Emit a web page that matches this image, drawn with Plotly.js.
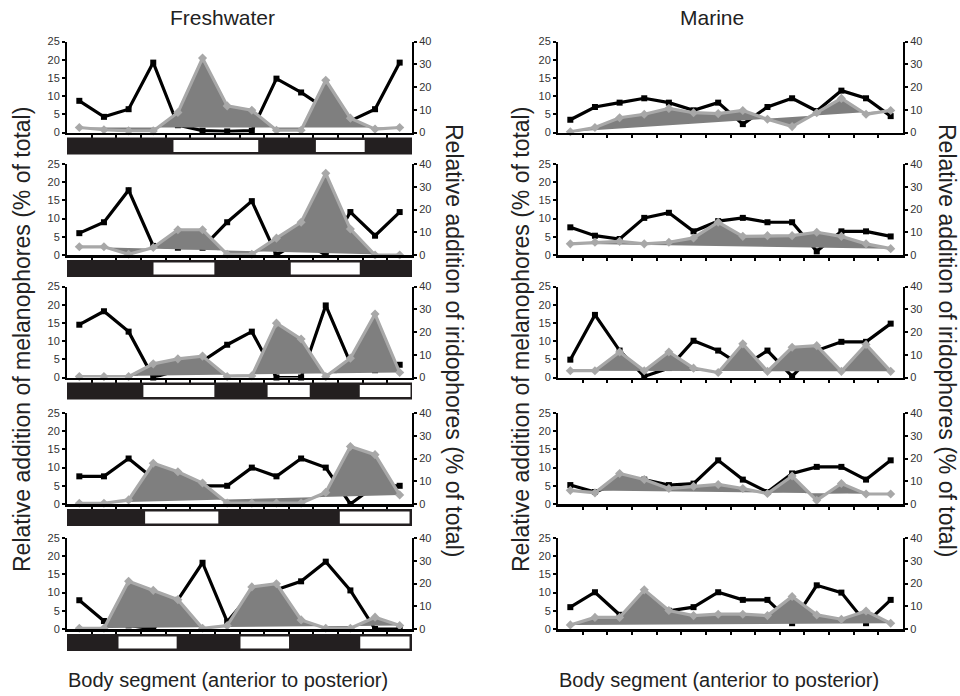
<!DOCTYPE html>
<html>
<head>
<meta charset="utf-8">
<script src="https://cdn.plot.ly/plotly-3.0.1.min.js"></script>
<style>html,body{margin:0;padding:0;background:#fff;}#chart{width:960px;height:696px;}</style>
</head>
<body>
<div id="chart"></div>
<script>
// Body segments (anterior to posterior)
const segments = [1,2,3,4,5,6,7,8,9,10,11,12,13,14];

// Freshwater: melanophores (left axis, %), iridophores (right axis, %)
const fwMel1 = [8.7,4.3,6.4,19.2,2,0.5,0.3,0.5,14.8,11,6.5,3.2,6.4,19.2];
const fwMel2 = [6.0,9.0,17.8,2.5,2,2,9.0,14.8,0,4,0,11.8,5.3,11.8];
const fwMel3 = [14.5,18.2,12.6,0,2,4.5,9,12.6,0,0,19.8,4,2,3.5];
const fwMel4 = [7.6,7.6,12.5,7,5,5,5,10,7.6,12.5,10,0,5,5];
const fwMel5 = [7.9,2.2,1,0,8,18.2,2,10,10.8,13.1,18.5,10.6,0,0];

const fwIri1 = [2.2,1.2,0.7,0.7,8.8,32.7,11.7,9.8,1,1,23,6.3,1.5,2.2];
const fwIri2 = [3.6,3.6,0.3,3.3,11.1,11.1,0.3,0.3,7.4,14.4,35.9,11.4,0,0];
const fwIri3 = [0.4,0.4,0.4,6,8.2,9.4,0.4,0.7,23.9,16.9,0.4,8.5,27.9,2.2];
const fwIri4 = [0.3,0.3,1.8,17.9,14.2,9.2,0.4,0.4,0.4,0.4,5.1,25.3,21.7,4];
const fwIri5 = [0.3,0.3,21,17,12.9,0.3,1.5,18.5,19.9,4,0.3,0.3,5.2,1.5];

// Marine
const mMel1 = [3.5,7,8.2,9.4,8.2,6.1,8.2,2.3,7,9.4,5.9,11.5,9.4,4.5];
const mMel2 = [7.6,5.3,4.4,10.2,11.6,6.5,9.3,10.2,9,9,1,6.5,6.5,5.1];
const mMel3 = [4.9,17.2,7.4,0.3,2.6,10.1,7.4,3,7.4,0.3,7.4,9.8,9.8,14.8];
const mMel4 = [5.2,3.3,6,6.7,5.2,5.6,12,6.7,3.3,8.4,10.2,10.2,6.7,12];
const mMel5 = [6,10.1,3.9,4,5,6,10.1,8,8,1.6,12,10,1.6,8];

const mIri1 = [0.3,2.2,6.5,8,10.6,8.7,8.3,9.7,5.8,2.6,8.7,15,8,9.7];
const mIri2 = [4.9,5.6,6,4.9,5.6,7.5,14.4,8.2,8.5,8.5,10,8.2,4.9,2.8];
const mIri3 = [3,3,11.2,3,11.2,4.1,2.2,14.8,2.7,13.3,14,2.7,14.5,2.7];
const mIri4 = [6,4.9,13.4,10.8,6.8,7.8,8.6,6.8,4.6,12.3,1.6,9,4.4,4.4];
const mIri5 = [1.8,5.1,5.1,17.2,8.1,5.9,6.5,6.5,5.9,14.3,6.2,4.3,7.9,2.5];

// Light (white) stripe segments under freshwater panels, in segment units
const fwLight1 = [[4.82,8.26],[10.6,12.58]];
const fwLight2 = [[4.01,6.48],[9.58,12.38]];
const fwLight3 = [[3.6,6.48],[8.64,10.35],[12.38,14.44]];
const fwLight4 = [[3.67,6.64],[11.57,14.4]];
const fwLight5 = [[2.59,4.95],[7.54,9.51],[12.4,14.4]];

const leftTicks = [0,5,10,15,20,25];
const rightTicks = [0,10,20,30,40];

const fwMel = [fwMel1,fwMel2,fwMel3,fwMel4,fwMel5];
const fwIri = [fwIri1,fwIri2,fwIri3,fwIri4,fwIri5];
const mMel = [mMel1,mMel2,mMel3,mMel4,mMel5];
const mIri = [mIri1,mIri2,mIri3,mIri4,mIri5];
const fwLight = [fwLight1,fwLight2,fwLight3,fwLight4,fwLight5];

const W = 960, H = 696;
const colX = [[67,412],[558,903]];
const rowBottom = [132.5,255,377.5,504,629];
const rowH = 91;

const FONT = 'Liberation Sans, Arial, Helvetica, sans-serif';
const traces = [];
const layout = {
  width: W, height: H,
  margin: {l:0,r:0,t:0,b:0},
  paper_bgcolor: '#fff', plot_bgcolor: 'rgba(0,0,0,0)',
  showlegend: false,
  font: {family: FONT, color: '#333'},
  shapes: [], annotations: []
};

let n = 0;
for (let c = 0; c < 2; c++) {
  for (let r = 0; r < 5; r++) {
    n++;
    const xa = 'x' + n, ya = 'y' + (2*n-1), yb = 'y' + (2*n);
    const xk = 'xaxis' + n, yak = 'yaxis' + (2*n-1), ybk = 'yaxis' + (2*n);
    const bottom = rowBottom[r], top = bottom - rowH;
    const dom = [1 - bottom/H, 1 - top/H];
    const xd = [colX[c][0]/W, colX[c][1]/W];
    layout[xk] = {
      domain: xd, anchor: ya, range: [0.5,14.5], showgrid: false, zeroline: false,
      showline: true, linecolor: '#000', linewidth: 2.5,
      ticks: 'outside', ticklen: 3, tickwidth: 2, tickcolor: '#000',
      tickvals: [1.5,2.5,3.5,4.5,5.5,6.5,7.5,8.5,9.5,10.5,11.5,12.5,13.5],
      showticklabels: false, fixedrange: true
    };
    layout[yak] = {
      domain: dom, anchor: xa, range: [0,25], showgrid: false, zeroline: false,
      showline: true, linecolor: '#000', linewidth: 2,
      ticks: 'outside', ticklen: 3, tickwidth: 2, tickcolor: '#000',
      tickvals: leftTicks, ticktext: leftTicks.map(String),
      tickfont: {size: 11, color: '#333', family: FONT}, fixedrange: true
    };
    layout[ybk] = {
      domain: dom, anchor: xa, overlaying: ya, side: 'right', range: [0,40],
      showgrid: false, zeroline: false,
      showline: true, linecolor: '#000', linewidth: 2,
      ticks: 'outside', ticklen: 3, tickwidth: 2, tickcolor: '#000',
      tickvals: rightTicks, ticktext: rightTicks.map(String),
      tickfont: {size: 11, color: '#333', family: FONT}, fixedrange: true
    };
    const mel = c === 0 ? fwMel[r] : mMel[r];
    const iri = c === 0 ? fwIri[r] : mIri[r];
    traces.push({
      x: segments, y: mel, xaxis: xa, yaxis: ya, type: 'scatter', mode: 'lines+markers',
      line: {color: '#000', width: 3.2}, marker: {symbol: 'square', size: 6, color: '#000'},
      cliponaxis: false, hoverinfo: 'skip'
    });
    traces.push({
      x: segments, y: iri, xaxis: xa, yaxis: yb, type: 'scatter', mode: 'lines+markers',
      fill: 'toself', fillcolor: '#7f7f7f',
      line: {color: '#a8a8a8', width: 3.2}, marker: {symbol: 'diamond', size: 7, color: '#a8a8a8'},
      cliponaxis: false, hoverinfo: 'skip'
    });
    if (c === 0) {
      const bt = bottom + 5, bb = bottom + 22;
      layout.shapes.push({type: 'rect', xref: xa, yref: 'paper', x0: 0.5, x1: 14.5,
        y0: 1 - bb/H, y1: 1 - bt/H, fillcolor: '#231f20', line: {width: 0}});
      fwLight[r].forEach(function(s){
        layout.shapes.push({type: 'rect', xref: xa, yref: 'paper', x0: s[0], x1: s[1],
          y0: 1 - (bb-2.5)/H, y1: 1 - (bt+2.5)/H, fillcolor: '#fff', line: {width: 0}});
      });
    }
  }
}

function ann(text, x, y, size, angle) {
  layout.annotations.push({text: text, xref: 'paper', yref: 'paper', x: x/W, y: 1 - y/H,
    showarrow: false, textangle: angle || 0, xanchor: 'center', yanchor: 'middle',
    font: {family: FONT, size: size, color: '#222'}});
}
ann('Freshwater', 222, 18, 21);
ann('Marine', 712, 18, 21);
ann('Body segment (anterior to posterior)', 228, 680, 20);
ann('Body segment (anterior to posterior)', 719, 680, 20);
ann('Relative addition of melanophores (% of total)', 22, 340, 23, -90);
ann('Relative addition of iridophores (% of total)', 454, 340, 23, 90);
ann('Relative addition of melanophores (% of total)', 521, 340, 23, -90);
ann('Relative addition of iridophores (% of total)', 947, 340, 23, 90);

Plotly.newPlot('chart', traces, layout, {staticPlot: true, displayModeBar: false});
</script>
</body>
</html>
